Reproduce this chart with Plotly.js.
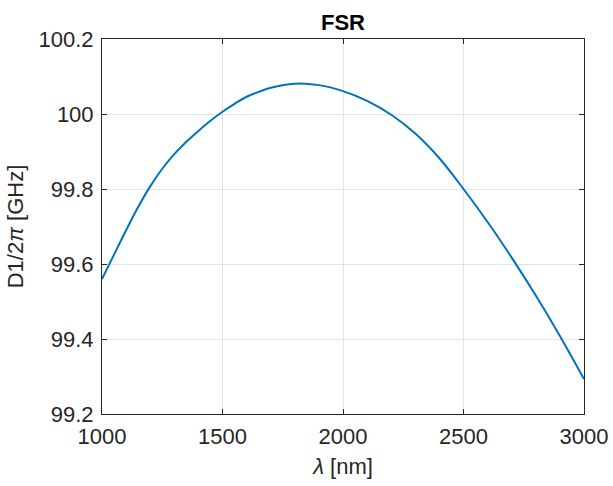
<!DOCTYPE html>
<html>
<head>
<meta charset="utf-8">
<script src="https://cdn.plot.ly/plotly-3.0.1.min.js"></script>
<style>html,body{margin:0;padding:0;background:#fff;}#chart{width:613px;height:486px;}</style>
</head>
<body>
<div id="chart"></div>
<script>
// wavelength (nm)
const wavelength = [1000, 1050, 1100, 1150, 1200, 1250, 1300, 1350, 1400, 1450, 1500, 1550, 1600, 1650, 1700, 1800, 1900, 2000,
                    2100, 2200, 2300, 2400, 2500, 2600, 2700, 2800, 2900, 3000];
// D1/2pi (GHz)
const fsr = [99.560, 99.625, 99.690, 99.752, 99.807, 99.854, 99.893, 99.926, 99.955, 99.982, 100.006, 100.027, 100.046, 100.059, 100.070, 100.081, 100.077, 100.061,
             100.035, 99.998, 99.948, 99.882, 99.800, 99.712, 99.617, 99.516, 99.408, 99.293];
const xTicks = [1000, 1500, 2000, 2500, 3000];
const yTicks = [99.2, 99.4, 99.6, 99.8, 100, 100.2];

const font = 'Liberation Sans, Arial, Helvetica, sans-serif';
const axisColor = '#262626';

const trace = {
  x: wavelength, y: fsr, type: 'scatter', mode: 'lines',
  line: {color: '#0072BD', width: 2, shape: 'spline', smoothing: 1},
  hoverinfo: 'skip'
};

const axisCommon = {
  showline: true, linecolor: axisColor, linewidth: 1, mirror: 'ticks',
  ticks: 'inside', ticklen: 5, tickcolor: axisColor, tickwidth: 1,
  showgrid: true, gridcolor: '#e3e3e3', gridwidth: 1,
  zeroline: false,
  tickfont: {family: font, size: 22, color: axisColor}
};

const layout = {
  width: 613, height: 486,
  margin: {l: 102, r: 29, t: 39, b: 72},
  paper_bgcolor: '#ffffff', plot_bgcolor: '#ffffff',
  showlegend: false,
  title: {text: '<b>FSR</b>', font: {family: font, size: 22, color: '#000000'},
          x: 0.5, xref: 'paper', y: 0.955, yref: 'container', yanchor: 'middle'},
  xaxis: Object.assign({}, axisCommon, {
    range: [1000, 3000], tickvals: xTicks, ticktext: xTicks.map(String),
    ticklabelstandoff: 3,
    title: {text: '<i>λ</i> [nm]', font: {family: font, size: 22, color: axisColor}, standoff: 10}
  }),
  yaxis: Object.assign({}, axisCommon, {
    range: [99.2, 100.2], tickvals: yTicks, ticktext: yTicks.map(v => String(v)),
    ticklabelstandoff: 3,
    title: {text: 'D1/2<i>π</i> [GHz]', font: {family: font, size: 22, color: axisColor}, standoff: 8}
  })
};

Plotly.newPlot('chart', [trace], layout, {displayModeBar: false, staticPlot: true});
</script>
</body>
</html>
